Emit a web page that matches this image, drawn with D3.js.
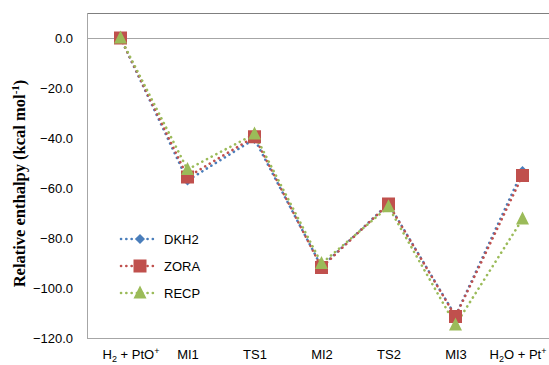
<!DOCTYPE html>
<html>
<head>
<meta charset="utf-8">
<script src="https://cdn.jsdelivr.net/npm/d3@7"></script>
<style>
  body { margin: 0; background: #fff; }
  svg { display: block; }
</style>
</head>
<body>
<svg id="chart" width="549" height="365"></svg>
<script>
// Reaction steps along the pathway
const steps = ["H2 + PtO+", "MI1", "TS1", "MI2", "TS2", "MI3", "H2O + Pt+"];

// Relative enthalpies (kcal/mol) for each method
const dkh2 = [0, -57.0, -40.4, -91.5, -66.3, -111.2, -53.2];
const zora = [0, -55.6, -39.5, -91.8, -66.4, -111.4, -55.0];
const recp = [0, -52.6, -38.4, -90.2, -67.5, -114.8, -72.4];

const yTicks = [0, -20, -40, -60, -80, -100, -120];

const series = [
  { name: "DKH2", values: dkh2, color: "#4A7EBB", marker: "diamond" },
  { name: "ZORA", values: zora, color: "#C0504D", marker: "square" },
  { name: "RECP", values: recp, color: "#9BBB59", marker: "triangle" }
];

const svg = d3.select("#chart");
const plotLeft = 87, plotRight = 556, plotTop = 13, plotBottom = 338;

const x = d3.scalePoint().domain(steps).range([plotLeft, plotRight]).padding(0.5);
const y = d3.scaleLinear().domain([-120, 10]).range([plotBottom, plotTop]);

// Frame: top border and left axis
svg.append("line").attr("x1", plotLeft).attr("x2", 549).attr("y1", plotTop + 0.5).attr("y2", plotTop + 0.5)
  .attr("stroke", "#7f7f7f").attr("stroke-width", 1);
svg.append("line").attr("x1", plotLeft + 0.5).attr("x2", plotLeft + 0.5).attr("y1", plotTop).attr("y2", plotBottom)
  .attr("stroke", "#a6a6a6").attr("stroke-width", 1);
// Zero reference line
svg.append("line").attr("x1", plotLeft).attr("x2", 549).attr("y1", y(0) + 0.5).attr("y2", y(0) + 0.5)
  .attr("stroke", "#a6a6a6").attr("stroke-width", 1);

// Y axis
const yAxis = svg.append("g").attr("transform", `translate(${plotLeft},0)`)
  .call(d3.axisLeft(y).tickValues(yTicks).tickSize(0).tickPadding(14).tickFormat(d3.format(".1f")));
yAxis.select(".domain").remove();
yAxis.selectAll("text").attr("font-family", "Liberation Sans, Arial, sans-serif")
  .attr("font-size", 13).attr("fill", "#000");

// X axis at the bottom
const xAxis = svg.append("g").attr("transform", `translate(0,${plotBottom})`)
  .call(d3.axisBottom(x).tickSize(0).tickPadding(12).tickFormat(() => ""));
xAxis.select(".domain").attr("stroke", "#a6a6a6").attr("d", `M${plotLeft},0.5H549`);

// Category labels with sub/superscripts
const labelParts = {
  "H2 + PtO+": [["H", ""], ["2", "sub"], [" + PtO", ""], ["+", "sup"]],
  "H2O + Pt+": [["H", ""], ["2", "sub"], ["O + Pt", ""], ["+", "sup"]]
};
const labelShift = { "H2 + PtO+": 10, "H2O + Pt+": -5 };
xAxis.selectAll(".tick text").each(function (d) {
  const t = d3.select(this)
    .attr("font-family", "Liberation Sans, Arial, sans-serif")
    .attr("font-size", 13).attr("fill", "#000")
    .attr("dx", labelShift[d] || 0);
  const parts = labelParts[d] || [[d, ""]];
  parts.forEach(([txt, kind]) => {
    const ts = t.append("tspan").text(txt);
    if (kind === "sub") ts.attr("font-size", 9).attr("baseline-shift", "-3");
    if (kind === "sup") ts.attr("font-size", 9).attr("baseline-shift", "5");
  });
});

// Y axis title
svg.append("text")
  .attr("transform", `translate(25,${(plotTop + plotBottom) / 2 + 8}) rotate(-90)`)
  .attr("text-anchor", "middle")
  .attr("font-family", "Liberation Serif, Times New Roman, serif")
  .attr("font-weight", "bold").attr("font-size", 16.5).attr("fill", "#000")
  .call(t => {
    t.append("tspan").text("Relative enthalpy (kcal mol");
    t.append("tspan").text("-1").attr("font-size", 11).attr("baseline-shift", "6");
    t.append("tspan").text(")");
  });

function drawMarker(g, type, color, cx, cy) {
  if (type === "diamond") {
    const s = 5;
    g.append("path").attr("d", `M${cx},${cy - s}L${cx + s},${cy}L${cx},${cy + s}L${cx - s},${cy}Z`)
      .attr("fill", color);
  } else if (type === "square") {
    const s = 6.5;
    g.append("rect").attr("x", cx - s).attr("y", cy - s).attr("width", 2 * s).attr("height", 2 * s)
      .attr("fill", color);
  } else {
    const s = 6.5;
    g.append("path").attr("d", `M${cx},${cy - s - 1}L${cx + s},${cy + s - 1}L${cx - s},${cy + s - 1}Z`)
      .attr("fill", color);
  }
}

const line = d3.line().x((d, i) => x(steps[i])).y(d => y(d));

// Dotted lines, drawn first for all series
series.forEach(s => {
  svg.append("path").datum(s.values).attr("d", line)
    .attr("fill", "none").attr("stroke", s.color).attr("stroke-width", 2.6)
    .attr("stroke-linecap", "round").attr("stroke-dasharray", "0.1 5.2");
});
// Markers on top
series.forEach(s => {
  const g = svg.append("g");
  s.values.forEach((v, i) => drawMarker(g, s.marker, s.color, x(steps[i]), y(v)));
});

// Legend
const legend = svg.append("g");
series.forEach((s, i) => {
  const ly = 239 + i * 27;
  legend.append("line").attr("x1", 121).attr("x2", 157).attr("y1", ly).attr("y2", ly)
    .attr("stroke", s.color).attr("stroke-width", 2.6).attr("stroke-linecap", "round")
    .attr("stroke-dasharray", "0.1 5.2");
  drawMarker(legend, s.marker, s.color, 140, ly);
  legend.append("text").attr("x", 164).attr("y", ly + 4.5)
    .attr("font-family", "Liberation Sans, Arial, sans-serif").attr("font-size", 13)
    .attr("fill", "#000").text(s.name);
});
</script>
</body>
</html>
